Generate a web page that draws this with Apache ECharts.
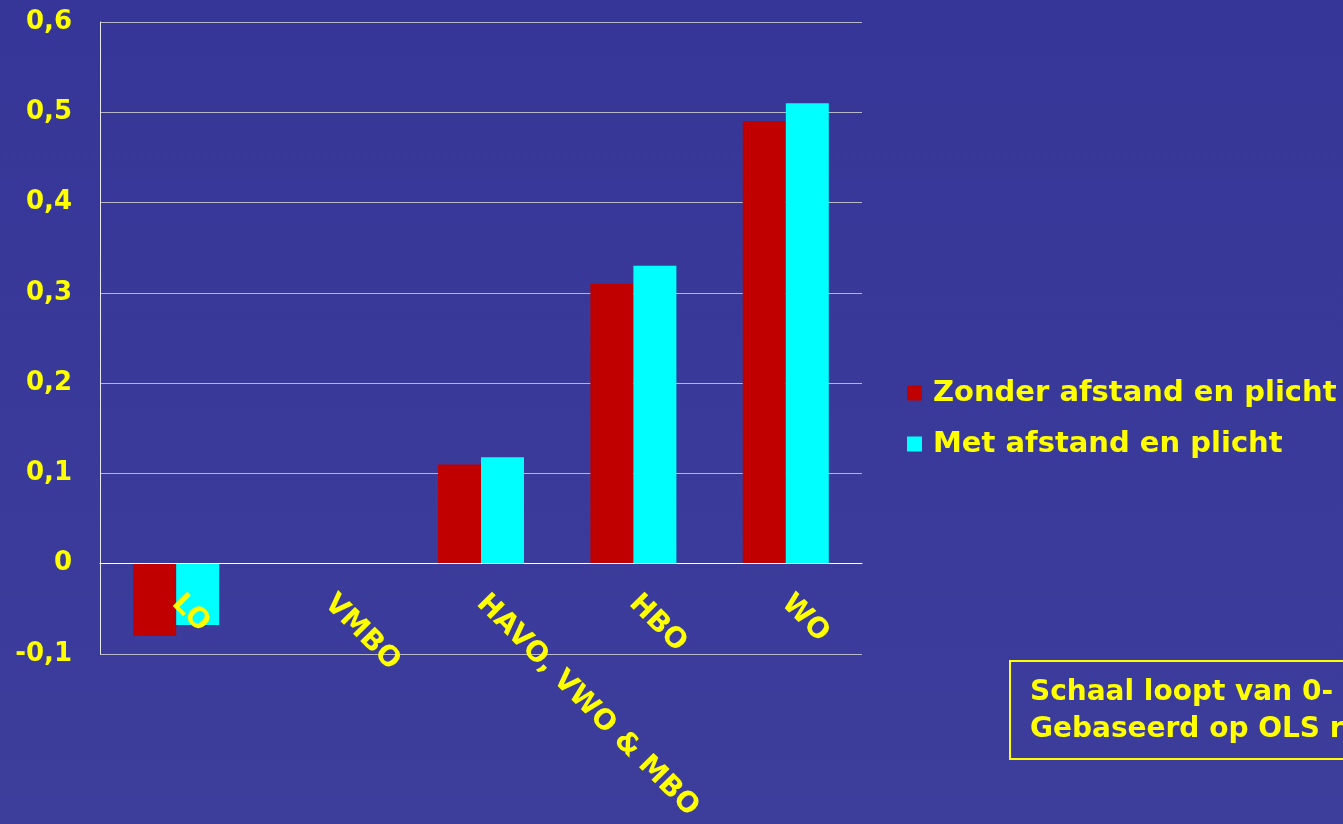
<!DOCTYPE html>
<html>
<head>
<meta charset="utf-8">
<script src="https://cdn.jsdelivr.net/npm/echarts@6/dist/echarts.min.js"></script>
<style>
html,body{margin:0;padding:0;background:#38389A;}
#chart{width:1343px;height:824px;}
</style>
</head>
<body>
<div id="chart"></div>
<script>
const categories = ['LO', 'VMBO', 'HAVO, VWO & MBO', 'HBO', 'WO'];
const seriesNames = ['Zonder afstand en plicht', 'Met afstand en plicht'];
const zonderValues = [-0.08, 0, 0.11, 0.31, 0.49];
const metValues = [-0.068, 0, 0.118, 0.33, 0.51];
const noteLines = ['Schaal loopt van 0-', 'Gebaseerd op OLS r'];

const chart = echarts.init(document.getElementById('chart'));
const FONT = 'DejaVu Sans';
chart.setOption({
  backgroundColor: {
    type: 'linear', x: 0, y: 0, x2: 0, y2: 1,
    colorStops: [{offset: 0, color: '#363698'}, {offset: 1, color: '#3D3D9C'}]
  },
  animation: false,
  grid: {left: 100, right: 481, top: 22, bottom: 170, containLabel: false, outerBoundsMode: 'none'},
  legend: {
    orient: 'vertical',
    left: 902,
    top: 373,
    itemWidth: 15,
    itemHeight: 15,
    itemGap: 21,
    icon: 'rect',
    textStyle: {color: '#FFFF00', fontFamily: FONT, fontWeight: 'bold', fontSize: 29, lineHeight: 30, padding: [0, 0, 0, 6]},
    data: seriesNames
  },
  xAxis: {
    type: 'category',
    data: categories,
    z: 10,
    axisLine: {onZero: true, lineStyle: {color: '#FFFFFF', width: 1}},
    axisTick: {show: false},
    axisLabel: {
      rotate: -45,
      margin: -55,
      interval: 0,
      color: '#FFFF00',
      fontFamily: FONT,
      fontWeight: 'bold',
      fontSize: 28
    },
    splitLine: {show: false}
  },
  yAxis: {
    type: 'value',
    min: -0.1,
    max: 0.6,
    interval: 0.1,
    axisLine: {show: true, lineStyle: {color: '#E8E8E8', width: 1}},
    axisTick: {show: false},
    axisLabel: {
      margin: 28,
      color: '#FFFF00',
      fontFamily: FONT,
      fontWeight: 'bold',
      fontSize: 26,
      padding: [4, 0, 0, 0],
      formatter: v => {
        const r = Math.round(v * 10) / 10;
        return r === 0 ? '0' : String(r).replace('.', ',');
      }
    },
    splitLine: {show: true, lineStyle: {color: '#B8B8C8', width: 1}}
  },
  series: [
    {
      name: seriesNames[0],
      type: 'bar',
      data: zonderValues,
      barWidth: 43,
      barGap: '0%',
      itemStyle: {color: '#C00000'}
    },
    {
      name: seriesNames[1],
      type: 'bar',
      data: metValues,
      barWidth: 43,
      barGap: '0%',
      itemStyle: {color: '#00FFFF'}
    }
  ],
  graphic: [
    {
      type: 'rect',
      left: 1009,
      top: 660,
      shape: {width: 400, height: 98},
      style: {fill: 'transparent', stroke: '#FFFF00', lineWidth: 2}
    },
    {
      type: 'text',
      left: 1030,
      top: 674,
      style: {
        text: noteLines.join('\n'),
        fill: '#FFFF00',
        font: 'bold 28px "DejaVu Sans"',
        lineHeight: 37
      }
    }
  ]
});
</script>
</body>
</html>
